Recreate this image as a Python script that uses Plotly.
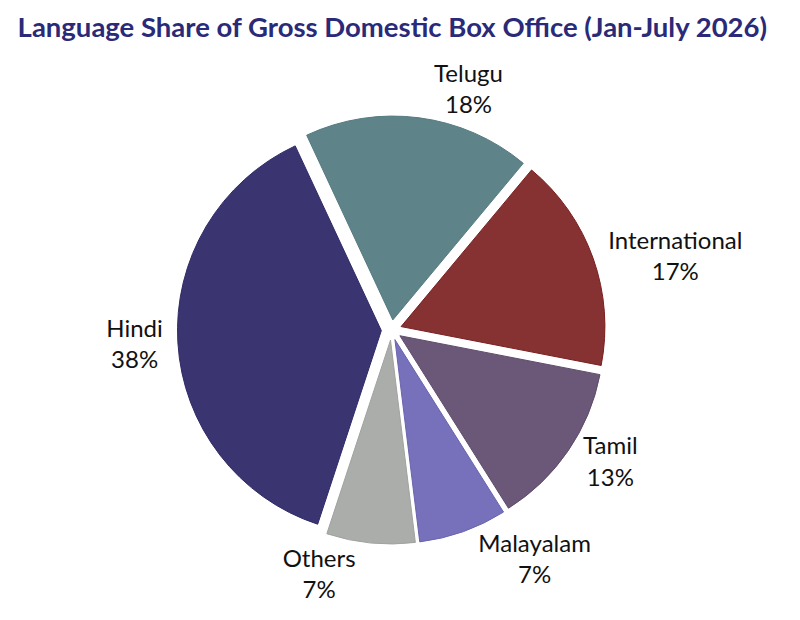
import plotly.graph_objects as go

# Share of gross domestic box office by language, Jan-July 2026
languages = ["Telugu", "International", "Tamil", "Malayalam", "Others", "Hindi"]
shares = [18, 17, 13, 7, 7, 38]
colors = ["#5E8489", "#873232", "#6B5878", "#7770BA", "#ABADAB", "#3A3470"]
edge_colors = ["#557A7F", "#7A1E1E", "#5F4C6C", "#6A63AE", "#A0A2A0", "#2E2A66"]

fig = go.Figure()

fig.add_trace(go.Pie(
    labels=languages,
    values=shares,
    sort=False,
    direction="clockwise",
    rotation=-25,
    pull=0.05,
    marker=dict(colors=colors, line=dict(color=edge_colors, width=1)),
    texttemplate="%{label}<br>%{percent:.0%}",
    textposition="outside",
    textfont=dict(family="Lato", size=24, color="#111111"),
    showlegend=False,
))

fig.update_layout(
    title=dict(
        text="<b>Language Share of Gross Domestic Box Office (Jan-July 2026)</b>",
        x=0.012, xanchor="left", y=0.985, yanchor="top",
        font=dict(family="Lato", size=27.5, color="#2A2A78"),
    ),
    width=800, height=620,
    margin=dict(l=150, r=70, t=108, b=68),
    paper_bgcolor="white",
)

fig.write_html("out.html")
